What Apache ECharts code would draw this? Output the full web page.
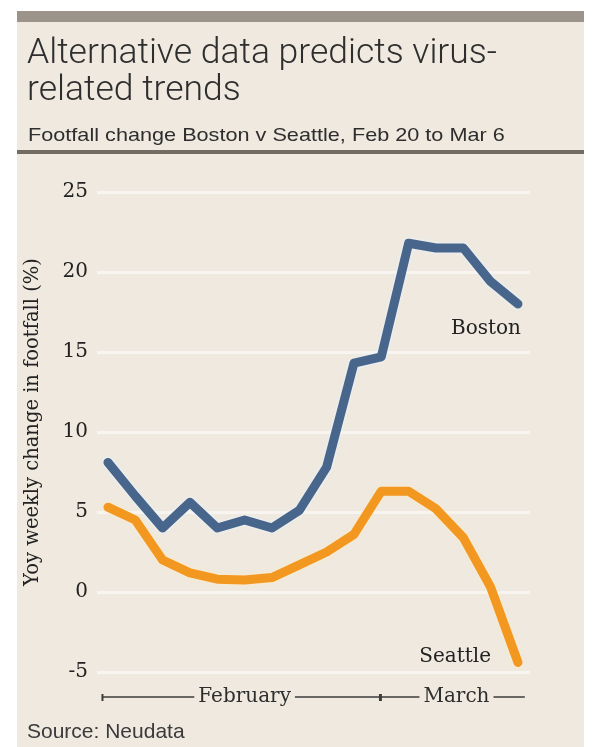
<!DOCTYPE html>
<html>
<head>
<meta charset="utf-8">
<script src="https://cdn.jsdelivr.net/npm/echarts@6/dist/echarts.min.js"></script>
<style>
  html, body { margin: 0; padding: 0; background: #ffffff; }
  #chart { width: 598px; height: 747px; }
</style>
</head>
<body>
<div id="chart"></div>
<script>
// daily points, Feb 20 to Mar 6 (2020, leap year)
const days = [
  "Feb 20", "Feb 21", "Feb 22", "Feb 23", "Feb 24", "Feb 25", "Feb 26", "Feb 27",
  "Feb 28", "Feb 29", "Mar 1", "Mar 2", "Mar 3", "Mar 4", "Mar 5", "Mar 6"
];
const boston = [8.1, 6.0, 4.0, 5.6, 4.0, 4.5, 4.0, 5.1, 7.8, 14.3, 14.7, 21.8, 21.5, 21.5, 19.4, 18.0];
const seattle = [5.3, 4.5, 2.0, 1.2, 0.8, 0.75, 0.9, 1.7, 2.5, 3.6, 6.3, 6.3, 5.2, 3.4, 0.3, -4.4];
const yTicks = [-5, 0, 5, 10, 15, 20, 25];
// month brackets under the chart: first day index of each month
const months = [
  { name: "February", start: 0, labelAt: 5 },
  { name: "March", start: 10, labelAt: 12.75 }
];

const BG = "#efe9df";
const INK = "#222222";
const SERIF = "'DejaVu Serif', serif";
const SANS = "'Liberation Sans', Arial, sans-serif";

const toPairs = (arr) => arr.map((v, i) => [i, v]);

// name label only on the last point of a series
const withEndLabel = (arr, name, labelOpts) =>
  toPairs(arr).map((p, i, a) =>
    i === a.length - 1
      ? {
          value: p,
          label: {
            show: true,
            formatter: name,
            color: INK,
            fontFamily: SERIF,
            fontSize: 20,
            ...labelOpts,
          },
        }
      : p
  );

const chart = echarts.init(document.getElementById("chart"));

const option = {
  animation: false,
  backgroundColor: "#ffffff",
  grid: { left: 97, top: 192, width: 433, height: 480, containLabel: false },
  xAxis: {
    type: "value",
    min: -0.4,
    max: 15.44,
    show: false,
  },
  yAxis: {
    type: "value",
    min: yTicks[0],
    max: yTicks[yTicks.length - 1],
    interval: 5,
    axisLine: { show: false },
    axisTick: { show: false },
    axisLabel: {
      color: INK,
      fontFamily: SERIF,
      fontSize: 20,
      margin: 9,
    },
    splitLine: { lineStyle: { color: "#f8f5f0", width: 3 } },
  },
  series: [
    {
      name: "Boston",
      type: "line",
      data: withEndLabel(boston, "Boston", { position: "bottom", distance: 15, offset: [-32, 0] }),
      symbol: "circle",
      symbolSize: 0,
      showSymbol: true,
      itemStyle: { color: "#48658c" },
      lineStyle: {
        color: "#48658c", width: 9, join: "round", cap: "round",
        shadowColor: "rgba(235,245,255,0.9)", shadowBlur: 4,
      },
      z: 3,
    },
    {
      name: "Seattle",
      type: "line",
      data: withEndLabel(seattle, "Seattle", { position: "left", distance: 27, offset: [0, -6] }),
      symbol: "circle",
      symbolSize: 0,
      showSymbol: true,
      itemStyle: { color: "#f2971f" },
      lineStyle: {
        color: "#f2971f", width: 9, join: "round", cap: "round",
        shadowColor: "rgba(255,236,200,0.9)", shadowBlur: 4,
      },
      z: 2,
    },
  ],
};

chart.setOption(option);

// panel, rules, titles and the month bracket
const px = (v) => chart.convertToPixel({ xAxisIndex: 0 }, v);
const bracketY = 697;
const bracketStart = px(-0.2);
const bracketEnd = px(15.25);

const elements = [
  { type: "rect", z: -10, silent: true, shape: { x: 17, y: 11, width: 567, height: 736 }, style: { fill: BG } },
  { type: "rect", z: -9, shape: { x: 17, y: 11, width: 567, height: 11 }, style: { fill: "#9c948b" } },
  { type: "rect", z: -9, shape: { x: 17, y: 150, width: 567, height: 4 }, style: { fill: "#736c65" } },
  {
    type: "text", left: 27, top: 36,
    style: { text: "Alternative data predicts virus-\nrelated trends", fill: "#2e2e2e", font: "300 35.5px Roboto, " + SANS, lineHeight: 37 },
  },
  {
    type: "text", x: 28, y: 126, scaleX: 1.14,
    style: { text: "Footfall change Boston v Seattle, Feb 20 to Mar 6", fill: "#2e2e2e", font: "19px " + SANS },
  },
  {
    type: "text", x: 27, y: 722,
    style: { text: "Source: Neudata", fill: "#3a3a3a", font: "21px " + SANS },
  },
  {
    type: "text", x: 33, y: 422, rotation: Math.PI / 2,
    style: { text: "Yoy weekly change in footfall (%)", fill: INK, font: "19.5px " + SERIF, align: "center", verticalAlign: "middle" },
  },
  {
    type: "line", shape: { x1: bracketStart, y1: bracketY, x2: bracketEnd, y2: bracketY },
    style: { stroke: "#3c3c3c", lineWidth: 1.3 },
  },
];

months.forEach((m) => {
  const tx = m.start === 0 ? bracketStart : px(m.start - 0.05);
  elements.push({
    type: "rect", shape: { x: tx - 1, y: bracketY - 3, width: m.start === 0 ? 2 : 3, height: 7 },
    style: { fill: "#3c3c3c" },
  });
  elements.push({
    type: "text", x: px(m.labelAt), y: bracketY,
    style: {
      text: m.name, fill: "#2e2e2e", font: "20px " + SERIF, align: "center", verticalAlign: "middle",
      backgroundColor: BG, padding: [0, 4],
    },
  });
});

chart.setOption({ graphic: { elements } });
</script>
</body>
</html>
